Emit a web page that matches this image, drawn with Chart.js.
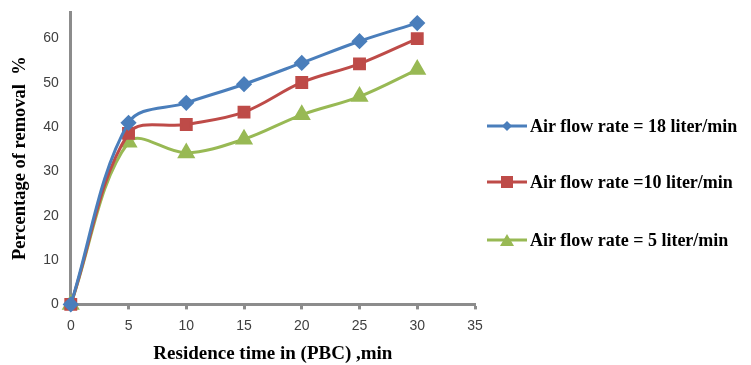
<!DOCTYPE html>
<html><head><meta charset="utf-8">
<script src="https://cdn.jsdelivr.net/npm/chart.js@4/dist/chart.umd.min.js"></script>
<style>
html,body{margin:0;padding:0;background:#fff}
#wrap{width:751px;height:365px;position:relative}
#legend{position:absolute;left:487px;top:0;width:264px;height:365px}
.item{position:absolute;left:0;height:20px;display:flex;align-items:center;white-space:nowrap;
  font-family:'Liberation Serif',serif;font-weight:bold;font-size:18px;color:#000}
.item canvas{margin-right:3px}
</style>
</head><body><div id="wrap"><canvas id="c"></canvas><div id="legend"></div></div>
<script>
const xValues = [0, 5, 10, 15, 20, 25, 30];
const flow18 = [0, 41, 45.5, 49.7, 54.5, 59.4, 63.5];
const flow10 = [0, 38.6, 40.6, 43.4, 50.1, 54.3, 60];
const flow5 = [0, 36.6, 34.2, 37.3, 42.8, 46.9, 53];
const seriesNames = ['Air flow rate = 18 liter/min', 'Air flow rate =10 liter/min', 'Air flow rate = 5 liter/min'];
const colors = ['#4a7ebb', '#be4b48', '#98b954'];
const styles = ['rectRot', 'rect', 'triangle'];
const radii = [6, 7, 7.5];
const allSeries = [flow18, flow10, flow5];

function legendIcon(color, style) {
  const c = document.createElement('canvas');
  c.width = 40; c.height = 14;
  const ctx = c.getContext('2d');
  ctx.strokeStyle = color; ctx.lineWidth = 3;
  ctx.beginPath(); ctx.moveTo(0, 7); ctx.lineTo(40, 7); ctx.stroke();
  ctx.fillStyle = color;
  ctx.beginPath();
  if (style === 'rectRot') { ctx.moveTo(20, 2); ctx.lineTo(25, 7); ctx.lineTo(20, 12); ctx.lineTo(15, 7); }
  else if (style === 'rect') { ctx.rect(14, 1, 12, 12); }
  else { ctx.moveTo(20, 1); ctx.lineTo(27, 13); ctx.lineTo(13, 13); }
  ctx.closePath(); ctx.fill();
  return c;
}

const legendTops = [116, 172, 230];
const legendEl = document.getElementById('legend');
seriesNames.forEach((name, i) => {
  const d = document.createElement('div');
  d.className = 'item';
  d.style.top = legendTops[i] + 'px';
  d.appendChild(legendIcon(colors[i], styles[i]));
  const s = document.createElement('span');
  s.textContent = name;
  d.appendChild(s);
  legendEl.appendChild(d);
});

const datasets = allSeries.map((vals, i) => ({
  label: seriesNames[i],
  data: xValues.map((x, j) => ({x: x, y: vals[j]})),
  borderColor: colors[i],
  backgroundColor: colors[i],
  borderWidth: 3,
  pointStyle: styles[i],
  pointRadius: radii[i],
  pointHoverRadius: radii[i],
  tension: 0.35,
  clip: false
}));

const axisGray = '#8c8c8c';
new Chart(document.getElementById('c'), {
  type: 'line',
  data: { datasets: datasets },
  options: {
    responsive: true, maintainAspectRatio: false, animation: false,
    layout: { padding: { top: 12, left: 5, right: 276, bottom: 0 } },
    plugins: { tooltip: { enabled: false }, legend: { display: false } },
    scales: {
      x: {
        type: 'linear', min: 0, max: 35,
        ticks: { stepSize: 5, color: '#404040', font: { family: 'Liberation Sans', size: 14 }, padding: 8 },
        grid: { drawOnChartArea: false, drawTicks: true, tickLength: 5, tickColor: axisGray, tickWidth: 3 },
        border: { color: axisGray, width: 3 },
        title: { display: true, text: 'Residence time in (PBC) ,min', color: '#000', font: { family: 'Liberation Serif', weight: 'bold', size: 19 }, padding: { top: 0, bottom: 0 } }
      },
      y: {
        min: 0, max: 66,
        afterFit: (scale) => { scale.paddingTop = 0; },
        ticks: { stepSize: 10, includeBounds: false, color: '#404040', font: { family: 'Liberation Sans', size: 14 }, padding: 12 },
        grid: { drawOnChartArea: false, drawTicks: false },
        border: { color: axisGray, width: 3 },
        title: { display: true, text: 'Percentage of removal  %', color: '#000', font: { family: 'Liberation Serif', weight: 'bold', size: 18.5 }, padding: { bottom: 0 } }
      }
    }
  }
});
</script></body></html>
